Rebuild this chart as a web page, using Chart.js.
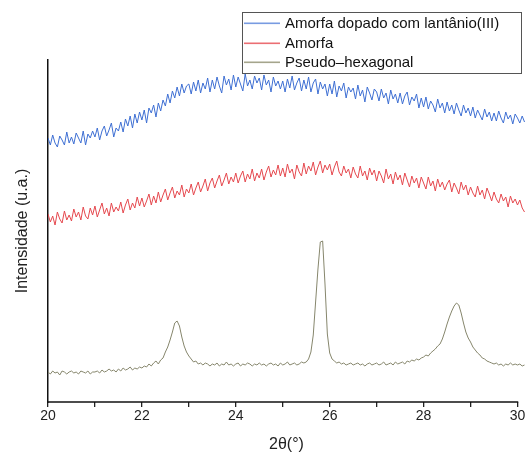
<!DOCTYPE html>
<html lang="pt">
<head>
<meta charset="UTF-8">
<title>DRX</title>
<script src="https://cdn.jsdelivr.net/npm/chart.js"></script>
<style>
  body { margin: 0; background: #fff; }
  #wrap { width: 531px; height: 458px; position: relative; }
</style>
</head>
<body>
<div id="wrap"><canvas id="xrd" width="531" height="458"></canvas></div>
<script>
// 2theta grid, 0.05 deg steps from 20 to 30.15
const angles = [];
for (let i = 0; i < 204; i++) angles.push(+(20 + 0.05 * i).toFixed(2));

const labels = ['Amorfa dopado com lantânio(III)', 'Amorfa', 'Pseudo\u2013hexagonal'];
const xTicks = [20, 22, 24, 26, 28, 30];

const dopado = [
  264, 257, 267, 259, 255, 266, 262, 257, 270, 259,
  265, 258, 269, 264, 259, 271, 257, 268, 264, 271,
  265, 274, 262, 271, 276, 266, 272, 279, 265, 274,
  271, 280, 270, 283, 276, 286, 274, 288, 279, 290,
  282, 292, 279, 294, 289, 297, 285, 299, 291, 302,
  296, 308, 299, 311, 304, 315, 306, 318, 309, 316,
  318, 308, 320, 311, 322, 309, 319, 313, 324, 310,
  322, 313, 325, 316, 309, 326, 317, 323, 312, 327,
  315, 325, 318, 311, 328, 316, 322, 313, 326, 319,
  324, 312, 327, 317, 322, 310, 325, 316, 321, 313,
  321, 310, 323, 314, 326, 312, 319, 324, 311, 322,
  313, 325, 310, 319, 323, 308, 320, 313, 318, 306,
  318, 308, 321, 305, 316, 311, 319, 304, 315, 310,
  314, 303, 317, 306, 312, 300, 315, 309, 302, 313,
  310, 301, 313, 304, 309, 298, 312, 303, 308, 299,
  309, 298, 306, 310, 297, 305, 301, 308, 294, 304,
  295, 305, 293, 301, 297, 290, 303, 294, 299, 289,
  300, 291, 297, 288, 299, 292, 286, 297, 289, 294,
  286, 295, 284, 292, 287, 282, 293, 285, 290, 281,
  289, 281, 291, 284, 279, 290, 283, 287, 278, 288,
  284, 279, 286, 280
];

const amorfa = [
  188, 180, 186, 177, 190, 183, 179, 191, 182, 187,
  181, 193, 185, 190, 182, 195, 186, 183, 194, 187,
  196, 185, 192, 199, 188, 194, 186, 199, 190, 195,
  191, 200, 189, 197, 203, 192, 199, 194, 205, 196,
  204, 195, 201, 208, 197, 206, 199, 210, 200, 207,
  213, 202, 209, 215, 204, 211, 207, 217, 205, 213,
  209, 218, 207, 214, 220, 210, 216, 223, 211, 219,
  224, 214, 221, 227, 216, 222, 229, 218, 225, 220,
  229, 219, 226, 231, 220, 228, 223, 233, 221, 229,
  224, 233, 222, 230, 236, 225, 232, 227, 237, 226,
  234, 225, 238, 229, 233, 223, 237, 230, 226, 239,
  228, 236, 231, 240, 227, 235, 241, 229, 237, 232,
  238, 227, 235, 241, 230, 226, 236, 229, 233, 224,
  235, 228, 224, 236, 226, 231, 222, 234, 227, 232,
  221, 231, 226, 219, 233, 223, 228, 218, 230, 222,
  227, 217, 229, 222, 215, 226, 219, 224, 214, 225,
  219, 213, 225, 216, 221, 211, 223, 215, 220, 212,
  218, 222, 210, 219, 214, 208, 220, 212, 217, 207,
  215, 209, 205, 216, 207, 212, 203, 214, 208, 201,
  210, 203, 199, 208, 201, 205, 195, 206, 199, 203,
  197, 202, 194, 190
];

const pseudoHex = [
  30, 28, 31, 29, 30, 27, 31, 30, 28, 30,
  31, 29, 30, 28, 31, 30, 29, 31, 28, 30,
  30, 31, 29, 32, 30, 31, 33, 31, 32, 30,
  33, 31, 34, 32, 33, 35, 32, 34, 33, 35,
  34, 36, 35, 38, 36, 39, 41, 38, 42, 44,
  50, 55, 62, 70, 79, 81, 76, 65, 56, 50,
  46, 43, 40, 41, 38, 39, 37, 39, 38, 36,
  38, 37, 39, 36, 38, 37, 40, 37, 38, 36,
  38, 39, 36, 38, 37, 39, 38, 36, 38, 37,
  39, 37, 38, 36, 38, 39, 37, 38, 36, 39,
  37, 38, 40, 37, 38, 39, 37, 38, 40, 39,
  40, 43, 50, 67, 100, 133, 160, 161, 118, 68,
  49, 43, 41, 39, 40, 38, 39, 37, 38, 39,
  37, 38, 39, 37, 38, 36, 38, 39, 37, 38,
  39, 37, 38, 40, 37, 38, 39, 37, 40, 38,
  39, 40, 38, 41, 40, 42, 41, 43, 42, 44,
  45, 47, 46, 49, 51, 53, 56, 58, 63, 70,
  78, 85, 91, 96, 99, 97, 89, 79, 70, 64,
  60, 55, 52, 49, 47, 44, 43, 41, 40, 39,
  38, 39, 37, 38, 36, 38, 37, 39, 37, 38,
  37, 38, 36, 37
];

const colors = ['#3e6fd3', '#e5484e', '#86866c'];
const legendColors = ['rgb(120,155,225)', 'rgb(235,110,115)', 'rgb(165,165,140)'];
const series = [dopado, amorfa, pseudoHex];

const FONT = '"Liberation Sans", Arial, sans-serif';

const boxLegend = {
  id: 'boxLegend',
  afterDraw(chart) {
    const c = chart.ctx;
    const x0 = 242, y0 = 12, w = 279, h = 61;
    c.save();
    // bottom axis line only runs 20..30, the data goes a little further
    const xs = chart.scales.x;
    const yb = chart.chartArea.bottom;
    c.strokeStyle = '#111';
    c.lineWidth = 1.5;
    c.beginPath();
    c.moveTo(chart.chartArea.left - 0.75, yb);
    c.lineTo(xs.getPixelForValue(30) + 0.75, yb);
    c.stroke();

    c.fillStyle = '#fff';
    c.fillRect(x0, y0, w, h);
    c.strokeStyle = '#555';
    c.lineWidth = 1;
    c.strokeRect(x0 + 0.5, y0 + 0.5, w, h);
    c.font = '15px ' + FONT;
    c.textBaseline = 'middle';
    for (let i = 0; i < labels.length; i++) {
      const y = Math.round(y0 + 11 + i * 19.5);
      c.fillStyle = legendColors[i];
      c.fillRect(x0 + 2, y - 0.5, 36, 1.6);
      c.fillStyle = '#111';
      c.fillText(labels[i], x0 + 43, y + 1);
    }
    c.restore();
  }
};

new Chart(document.getElementById('xrd'), {
  type: 'line',
  data: {
    datasets: series.map((vals, i) => ({
      label: labels[i],
      data: vals.map((v, k) => ({ x: angles[k], y: v })),
      borderColor: colors[i],
      borderWidth: 1,
      pointRadius: 0,
      tension: 0
    }))
  },
  options: {
    responsive: false,
    animation: false,
    layout: { padding: { top: 60, right: 6, left: 0, bottom: 0 } },
    plugins: { legend: { display: false }, tooltip: { enabled: false } },
    scales: {
      x: {
        type: 'linear',
        min: 20,
        max: 30.16,
        afterFit: s => { s.height = 56; },
        afterBuildTicks: s => {
          s.ticks = [];
          for (let v = 20; v <= 30; v++) s.ticks.push({ value: v });
        },
        ticks: {
          autoSkip: false,
          maxRotation: 0,
          padding: 1,
          color: '#222',
          font: { family: FONT, size: 14 },
          callback: v => xTicks.includes(v) ? String(v) : ''
        },
        grid: { drawOnChartArea: false, tickLength: 5, color: '#222', lineWidth: 1.3 },
        border: { display: false },
        title: {
          display: true,
          text: '2θ(°)',
          color: '#222',
          font: { family: FONT, size: 16 },
          padding: { top: 12 }
        }
      },
      y: {
        min: 0,
        max: 342,
        afterFit: s => { s.width = 48; },
        ticks: { display: false },
        grid: { display: false },
        border: { color: '#111', width: 1.5 },
        title: {
          display: true,
          text: 'Intensidade (u.a.)',
          color: '#222',
          font: { family: FONT, size: 16 },
          padding: { top: 13, bottom: 0 }
        }
      }
    }
  },
  plugins: [boxLegend]
});
</script>
</body>
</html>
